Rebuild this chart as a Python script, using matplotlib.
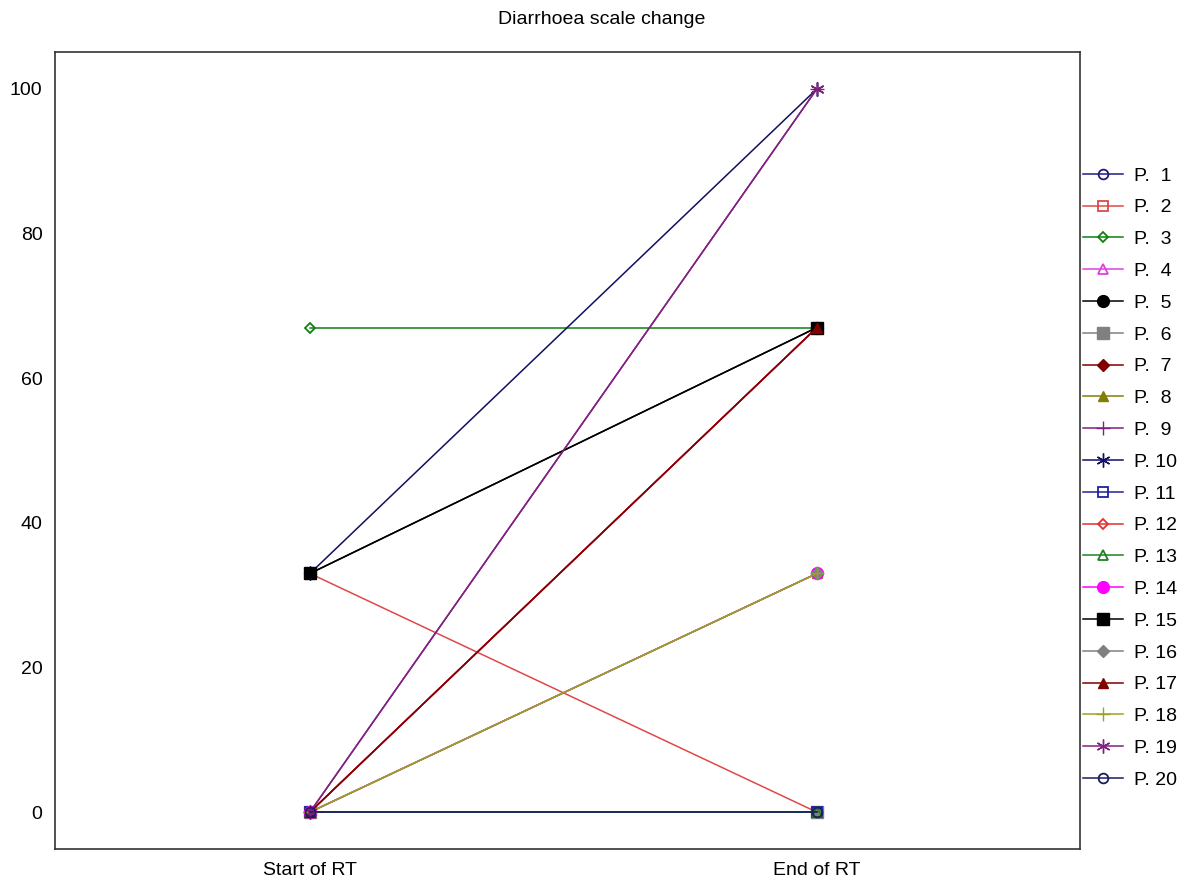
import matplotlib.pyplot as plt
from matplotlib.lines import Line2D

plt.rcParams['font.family'] = ['Liberation Sans', 'DejaVu Sans']

# данные: оценка шкалы диареи в начале и в конце лучевой терапии
patients = ["P.  1", "P.  2", "P.  3", "P.  4", "P.  5", "P.  6", "P.  7", "P.  8", "P.  9", "P. 10",
            "P. 11", "P. 12", "P. 13", "P. 14", "P. 15", "P. 16", "P. 17", "P. 18", "P. 19", "P. 20"]
start_rt = [0, 33, 67, 0, 33, 0, 0, 0, 0, 33,
            0, 0, 0, 0, 33, 0, 0, 0, 0, 0]
end_rt = [0, 0, 67, 67, 67, 0, 67, 33, 100, 100,
          0, 67, 0, 33, 67, 33, 67, 33, 100, 0]
time_labels = ["Start of RT", "End of RT"]

# стиль каждой линии: цвет, маркер, заливка
star = (6, 2, 0)
styles = [
    ('#1c1c80', 'o', 'none'), ('#e04848', 's', 'none'), ('#108010', 'D', 'none'),
    ('#e040e0', '^', 'none'), ('#000000', 'o', 'full'), ('#808080', 's', 'full'),
    ('#800000', 'D', 'full'), ('#808000', '^', 'full'), ('#802080', '+', 'full'),
    ('#101060', star, 'full'), ('#2020a0', 's', 'none'), ('#e03030', 'D', 'none'),
    ('#208020', '^', 'none'), ('#ff00ff', 'o', 'full'), ('#000000', 's', 'full'),
    ('#808080', 'D', 'full'), ('#800000', '^', 'full'), ('#a0a020', '+', 'full'),
    ('#802080', star, 'full'), ('#1c1c60', 'o', 'none'),
]


def msize(m, fs):
    if m == 'D':
        return 6 if fs == 'full' else 5
    if m in ('+', star):
        return 10
    if fs == 'full' and m in ('o', 's'):
        return 8.5
    return 7


fig = plt.figure(figsize=(12.03, 8.88), dpi=100)
ax = fig.add_axes([0.0457, 0.0439, 0.852, 0.8975])

handles = []
for i in range(len(patients)):
    c, m, fs = styles[i]
    kw = dict(color=c, lw=1.1, marker=m, ms=msize(m, fs), fillstyle=fs,
              mew=1.3 if fs == 'none' else 1.0)
    ax.plot([0, 1], [start_rt[i], end_rt[i]], **kw)
    handles.append(Line2D([], [], **kw))

ax.set_xlim(-0.503, 1.519)
ax.set_ylim(-5.1, 105.1)
ax.set_xticks([0, 1])
ax.set_xticklabels(time_labels)
ax.set_yticks([0, 20, 40, 60, 80, 100])
ax.tick_params(length=0, labelsize=14, pad=9)
for s in ax.spines.values():
    s.set_linewidth(1.2)
    s.set_color('#333333')

fig.suptitle("Diarrhoea scale change", y=0.988, fontsize=14)

fig.legend(handles, patients, loc='upper left', bbox_to_anchor=(0.9, 0.812),
           frameon=False, fontsize=14, labelspacing=0.73, handlelength=2.05,
           handletextpad=0.6, borderpad=0, borderaxespad=0)

fig.savefig('out.png', dpi=100)
